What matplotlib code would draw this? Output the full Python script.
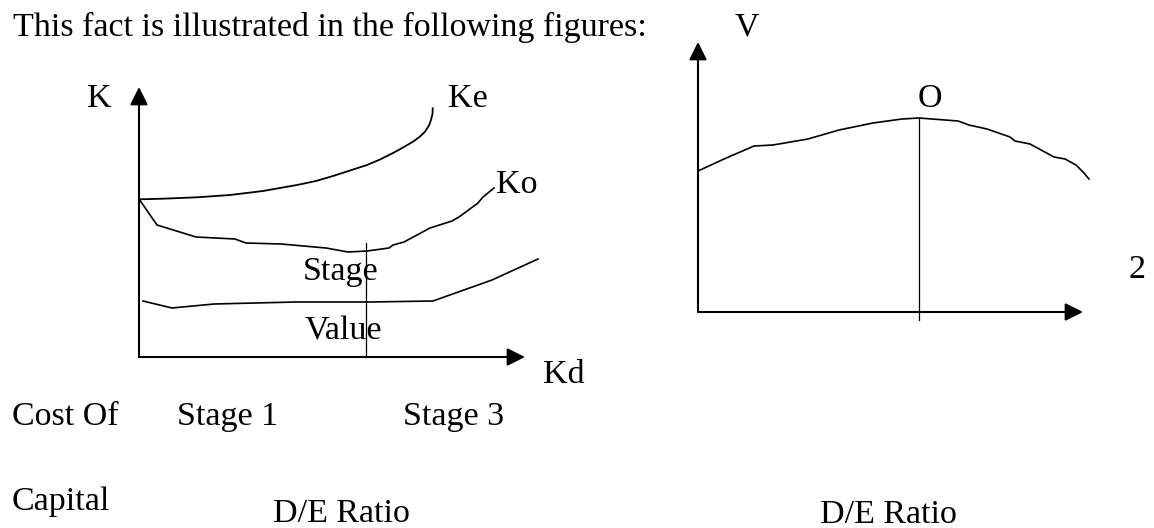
import matplotlib
matplotlib.use("Agg")
import matplotlib.pyplot as plt

plt.rcParams['font.family'] = ['Liberation Serif', 'DejaVu Serif']

# ---------------- data ----------------
# Left panel (cost of capital vs D/E ratio); units: arbitrary, origin at axes corner
ke_x = [0, 24, 58, 91, 124, 158, 177, 194, 211, 228, 241, 254, 264, 274, 281, 286, 290, 292, 293.5, 293.7]
ke_y = [157.7, 158.3, 159.7, 162, 166, 172, 176, 181, 186.5, 192, 197.5, 204, 209.5, 215.3, 220.5,
        225.3, 231.5, 237, 243, 248.7]

ko_x = [0, 18, 57, 96, 107, 142, 187, 209, 228, 250, 254, 265, 291, 313, 320, 339, 344, 355]
ko_y = [158, 132, 120, 118, 114, 113, 109, 105, 106, 109, 112, 115, 129, 136, 140, 154, 160, 169]

kd_x = [4, 33, 75, 157, 231, 294, 353, 399]
kd_y = [56, 49, 53, 55, 55, 56, 77, 98]

left_opt_x = 227       # vertical marker (optimum D/E)
left_opt_top = 114
left_xmax, left_ymax = 386, 270

# Right panel (value of firm vs D/E ratio)
v_x = [0, 26, 56, 75, 110, 141, 175, 204, 221, 260, 271, 289, 312, 317, 332, 356, 367, 378, 386, 391]
v_y = [141, 153, 166, 167, 173, 182, 189, 193, 194, 191, 187, 183, 175, 171, 168, 155, 153, 147, 139, 133]

right_opt_x = 221
right_opt_bottom, right_opt_top = -8, 194
right_xmax, right_ymax = 385, 270

# text labels: (text, x_px, baseline_px)
labels = [
    ("This fact is illustrated in the following figures:", 13, 36),
    ("V", 735, 35),
    ("K", 87, 107),
    ("Ke", 448, 107),
    ("O", 918, 107),
    ("Ko", 496, 193),
    ("Stage", 303, 280),
    ("2", 1128, 278),
    ("Value", 305, 340),
    ("Kd", 543, 383),
    ("Cost Of", 12, 425),
    ("Stage 1", 177, 425),
    ("Stage 3", 403, 425),
    ("Capital", 12, 510),
    ("D/E Ratio", 273, 522),
    ("D/E Ratio", 820, 523),
]

W, H = 1154, 528
fig = plt.figure(figsize=(W / 100, H / 100), dpi=100)
fig.patch.set_facecolor('white')

# full-figure axis for text
axt = fig.add_axes([0, 0, 1, 1])
axt.set_xlim(0, W)
axt.set_ylim(H, 0)
axt.axis('off')
for s, x, y in labels:
    axt.text(x, y, s, fontsize=24.5, ha='left', va='baseline', color='black')


def panel(x0, y0, xmax, ymax):
    ax = fig.add_axes([x0 / W, (H - y0) / H, xmax / W, ymax / H])
    ax.set_xlim(0, xmax)
    ax.set_ylim(0, ymax)
    ax.axis('off')
    arrow = dict(arrowstyle='-|>,head_length=0.6,head_width=0.3', mutation_scale=18,
                 lw=1.5, color='black', shrinkA=0, shrinkB=0)
    ax.annotate('', xy=(xmax, 0), xytext=(0, 0), arrowprops=arrow, annotation_clip=False)
    ax.annotate('', xy=(0, ymax), xytext=(0, 0), arrowprops=arrow, annotation_clip=False)
    return ax


axl = panel(139, 357, left_xmax, left_ymax)
axl.plot(ke_x, ke_y, color='black', lw=1.3, clip_on=False, solid_joinstyle='round')
axl.plot(ko_x, ko_y, color='black', lw=1.2, clip_on=False)
axl.plot(kd_x, kd_y, color='black', lw=1.2, clip_on=False)
axl.plot([left_opt_x, left_opt_x], [0, left_opt_top], color='black', lw=0.9, clip_on=False)

axr = panel(698, 312, right_xmax, right_ymax)
axr.plot(v_x, v_y, color='black', lw=1.2, clip_on=False)
axr.plot([right_opt_x, right_opt_x], [right_opt_bottom, right_opt_top], color='black', lw=0.9, clip_on=False)

fig.savefig('out.png', dpi=100, facecolor='white')
